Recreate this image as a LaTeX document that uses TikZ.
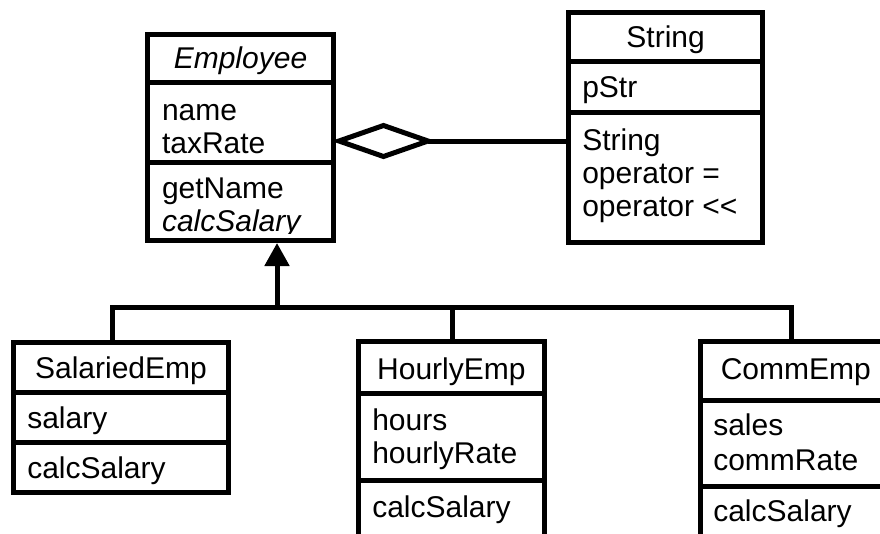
\documentclass[tikz,border=0pt]{standalone}
\usepackage{fontspec}
\setmainfont{Liberation Sans}
\usetikzlibrary{arrows.meta,shapes.geometric}
\begin{document}
\begin{tikzpicture}[x=1pt,y=-1pt,
  classbox/.style={draw, line width=5pt, inner sep=0pt, outer sep=2.5pt, fill=white},
  divider/.style={line width=5pt},
  conn/.style={line width=5pt},
  lbl/.style={font=\fontsize{30}{33}\selectfont, inner sep=0pt, outer sep=0pt, anchor=base west},
  ttl/.style={lbl, anchor=base},
  ital/.style={font=\fontsize{30}{33}\selectfont\itshape},
]
\clip (0,0) rectangle (880,533);
\fill[white] (0,0) rectangle (880,533);

% ---------- Employee ----------
\node[classbox, minimum width=186pt, minimum height=206pt] (emp) at (240.5,137.5) {};
\draw[divider] (emp.west |- 0,82) -- (emp.east |- 0,82);
\draw[divider] (emp.west |- 0,162.5) -- (emp.east |- 0,162.5);
\node[ttl, ital] (empT) at (240.5,68.3) {Employee};
\node[lbl] (empA1) at (162,120) {name};
\node[lbl] (empA2) at (162,153) {taxRate};
\node[lbl] (empM1) at (162,198.3) {getName};
\begin{scope}
  \clip (148,165) rectangle (333,233.5);
  \node[lbl, ital] (empM2) at (162,231.3) {calcSalary};
\end{scope}

% ---------- String ----------
\node[classbox, minimum width=194pt, minimum height=229.5pt] (str) at (665.6,127.25) {};
\draw[divider] (str.west |- 0,61.5) -- (str.east |- 0,61.5);
\draw[divider] (str.west |- 0,112.5) -- (str.east |- 0,112.5);
\node[ttl] (strT) at (665.6,47) {String};
\node[lbl] (strA1) at (582.3,97) {pStr};
\node[lbl] (strM1) at (582.3,150) {String};
\node[lbl] (strM2) at (582.3,183) {operator =};
\node[lbl] (strM3) at (582.3,216) {operator <\kern0pt<};

% ---------- aggregation ----------
\node[diamond, draw, line width=5pt, minimum width=89pt, minimum height=31pt,
      inner sep=0pt, outer sep=0pt, fill=white] (agg) at (383.5,141) {};
\draw[conn] (agg.east) -- (agg.east -| str.west);

% ---------- SalariedEmp ----------
\node[classbox, minimum width=215pt, minimum height=150pt] (sal) at (121,417.5) {};
\draw[divider] (sal.west |- 0,392.7) -- (sal.east |- 0,392.7);
\draw[divider] (sal.west |- 0,442.7) -- (sal.east |- 0,442.7);
\node[ttl] (salT) at (121,378.5) {SalariedEmp};
\node[lbl] (salA1) at (27.3,428.3) {salary};
\node[lbl] (salM1) at (27.3,478.3) {calcSalary};

% ---------- HourlyEmp ----------
\node[classbox, minimum width=185.3pt, minimum height=218.5pt] (hour) at (451.35,450.75) {};
\draw[divider] (hour.west |- 0,393.5) -- (hour.east |- 0,393.5);
\draw[divider] (hour.west |- 0,480.5) -- (hour.east |- 0,480.5);
\node[ttl] (hourT) at (451.35,379) {HourlyEmp};
\node[lbl] (hourA1) at (372.3,430) {hours};
\node[lbl] (hourA2) at (372.3,463.3) {hourlyRate};
\node[lbl] (hourM1) at (372.3,517) {calcSalary};

% ---------- CommEmp ----------
\node[classbox, minimum width=190.5pt, minimum height=218.5pt] (comm) at (795.75,450.75) {};
\draw[divider] (comm.west |- 0,400) -- (comm.east |- 0,400);
\draw[divider] (comm.west |- 0,486.5) -- (comm.east |- 0,486.5);
\node[ttl] (commT) at (795.75,379) {CommEmp};
\node[lbl] (commA1) at (713.3,435) {sales};
\node[lbl] (commA2) at (713.3,470) {commRate};
\node[lbl] (commM1) at (713.3,521.7) {calcSalary};

% ---------- generalization ----------
\coordinate (j) at (277,307.5);
\draw[conn] ([xshift=-9pt]sal.north) |- ([xshift=-4.25pt]comm.north |- j) -- ([xshift=-4.25pt]comm.north);
\draw[conn] ([xshift=1.15pt]hour.north) -- ([xshift=1.15pt]hour.north |- j);
\draw[conn, -{Triangle[width=24pt,length=23pt]}] (j) -- (j |- emp.south);
\end{tikzpicture}
\end{document}
